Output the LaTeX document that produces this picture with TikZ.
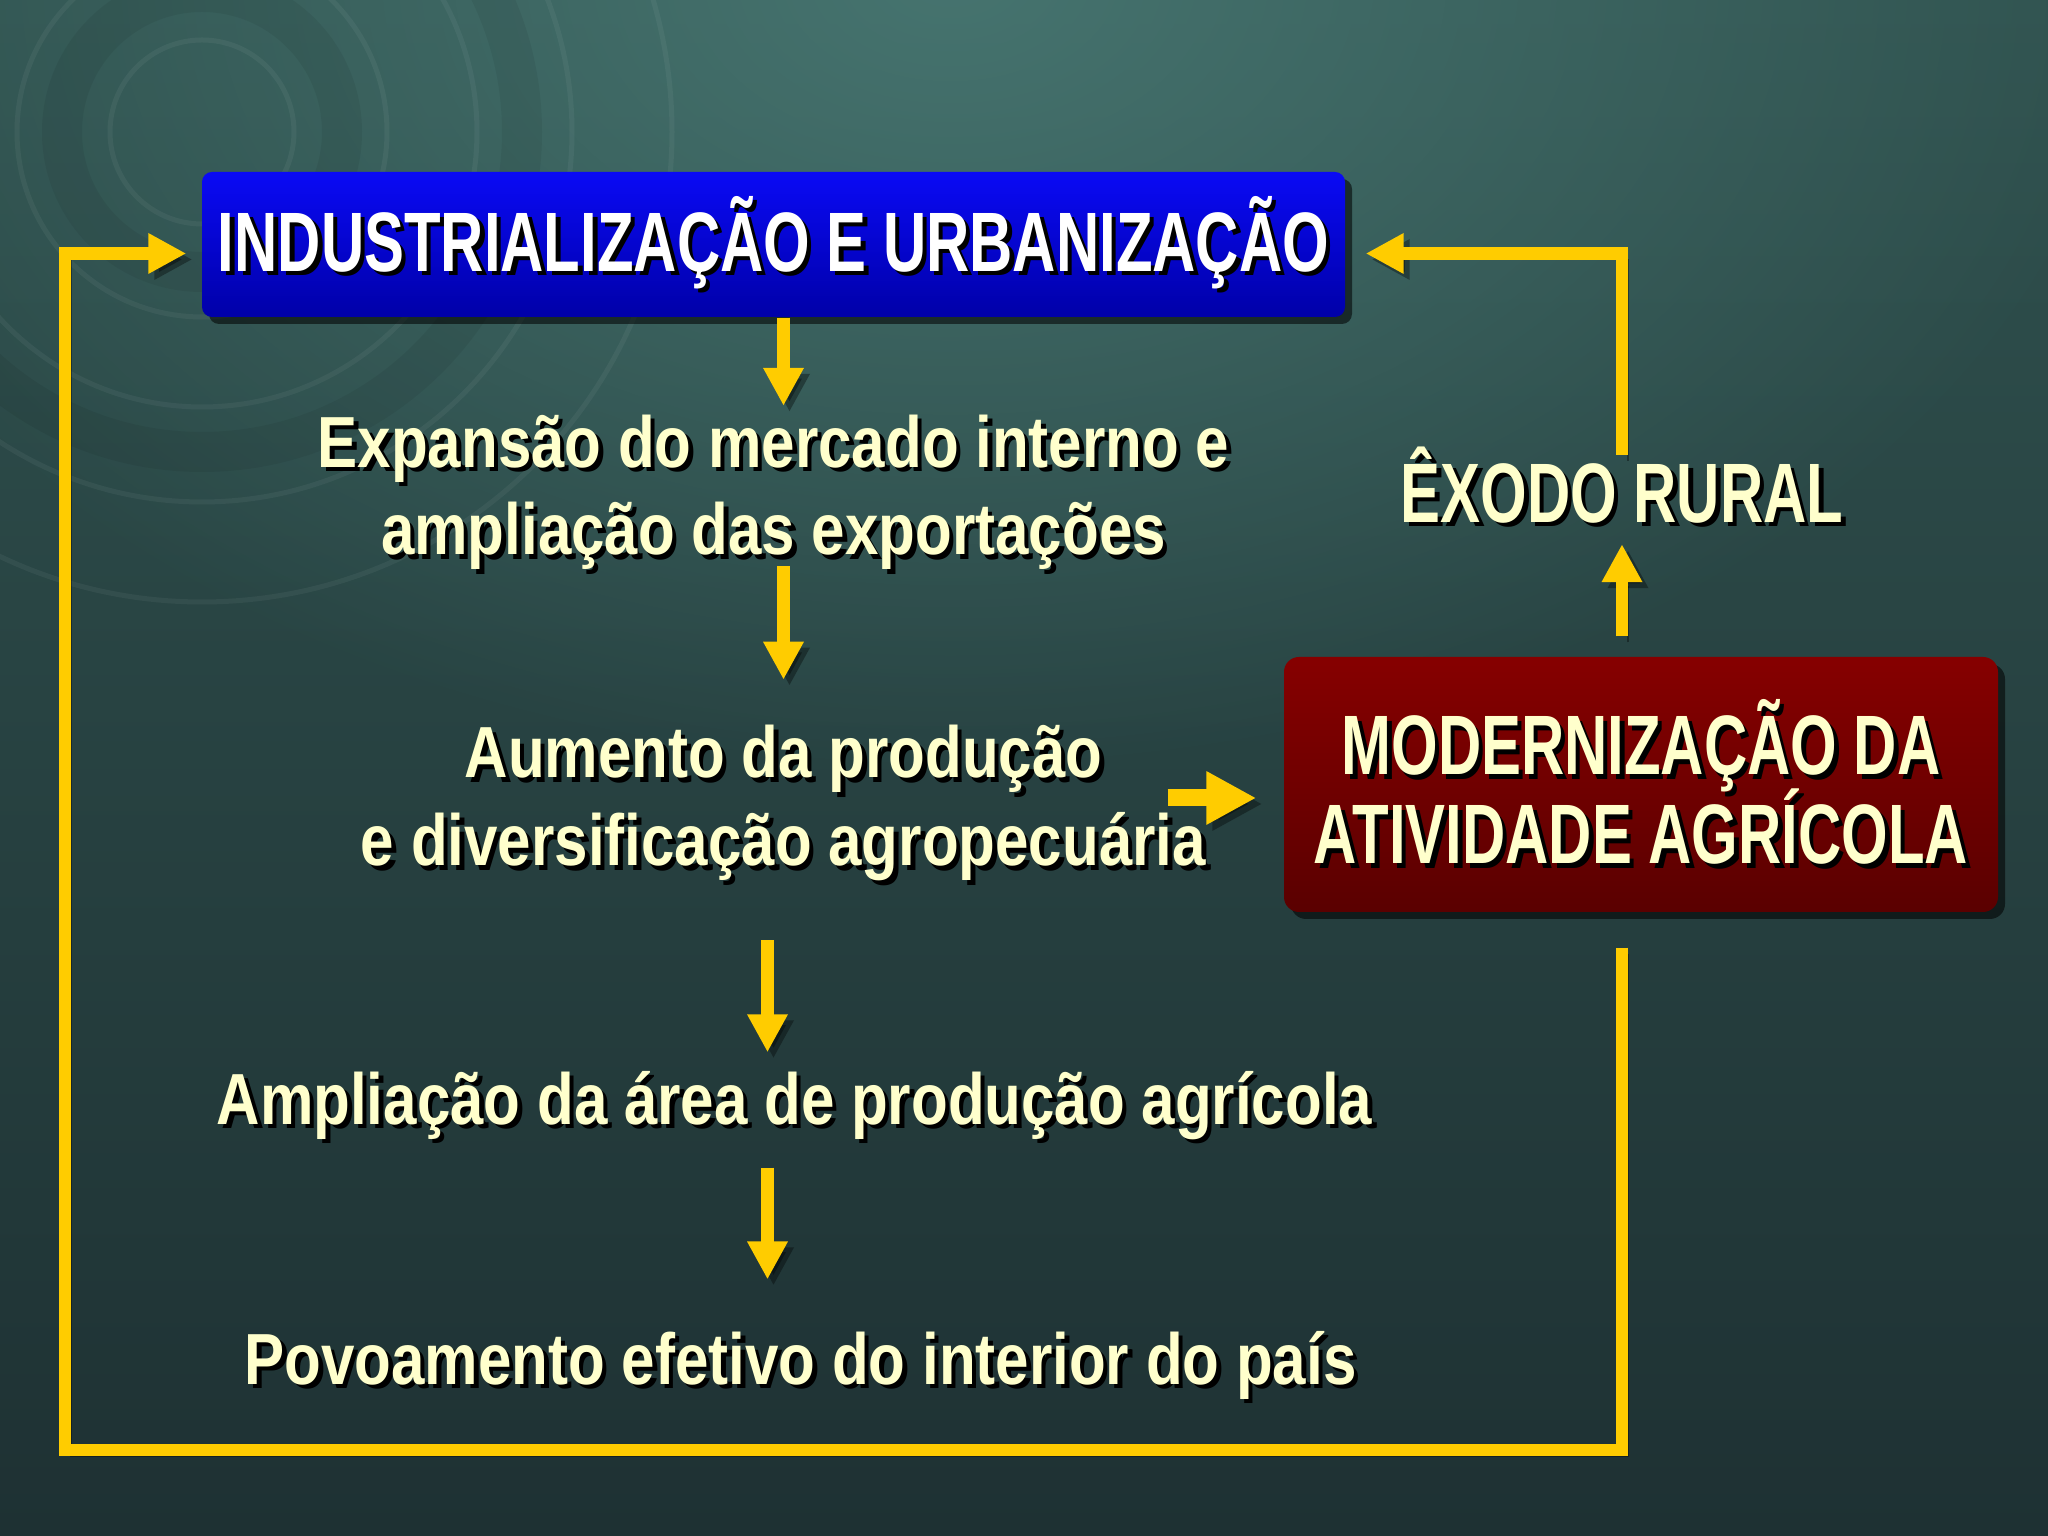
\documentclass[tikz,border=0pt]{standalone}
\usepackage{fontspec}
\setmainfont{Liberation Sans}[FakeStretch=0.83]
\newfontfamily\headfont{Liberation Sans}[FakeStretch=0.71]
\usetikzlibrary{arrows.meta,shadows,positioning,fadings}

\definecolor{bgtop}{HTML}{30524F}
\definecolor{bgbot}{HTML}{1E3133}
\definecolor{bgglow}{HTML}{4A7A75}
\definecolor{cream}{HTML}{FFFFCC}
\definecolor{gold}{HTML}{FFCC00}
\definecolor{bluetop}{HTML}{0A0AF5}
\definecolor{bluebot}{HTML}{0000A8}
\definecolor{redtop}{HTML}{860000}
\definecolor{redbot}{HTML}{5A0000}

\tikzfading[name=glow, inner color=transparent!15, outer color=transparent!100]

\newcommand\shd[1]{\leavevmode\rlap{\kern0.45mm\raisebox{-0.45mm}{\color{black}#1}}#1}

\begin{document}
\begin{tikzpicture}[
  etapa/.style = {text=cream, align=center, inner sep=0pt, font=\bfseries\fontsize{20.6}{25}\selectfont},
  titulo/.style = {text=cream, align=center, inner sep=0pt, font=\headfont\bfseries\fontsize{24}{25}\selectfont},
  bluebox/.style = {titulo, text=white, rounded corners=1mm, top color=bluetop, bottom color=bluebot, minimum width=11.43cm, minimum height=1.45cm, drop shadow={shadow xshift=0.7mm, shadow yshift=-0.7mm, fill=black, opacity=0.55}},
  redbox/.style = {titulo, rounded corners=1.5mm, top color=redtop, bottom color=redbot, minimum width=7.14cm, minimum height=2.55cm, drop shadow={shadow xshift=0.7mm, shadow yshift=-0.7mm, fill=black, opacity=0.55}},
  flow/.style = {draw=gold, line width=1.25mm, -{Triangle[length=3.8mm,width=3.8mm]}, preaction={draw=black, opacity=0.35, transform canvas={xshift=0.6mm,yshift=-0.6mm}}},
  bigflow/.style = {flow, line width=1.7mm, -{Triangle[length=5mm,width=5mm]}}
]
\useasboundingbox (0,0) rectangle (20.48,15.36);
\shade[top color=bgtop, bottom color=bgbot] (0,0) rectangle (20.48,15.36);
\fill[bgglow, path fading=glow] (9.5,15.6) ellipse (12cm and 8cm);
\begin{scope}
  \clip (0,0) rectangle (20.48,15.36);
  \foreach \r in {0.92,1.85,2.75,3.7,4.7}
    \draw[white, opacity=0.05, line width=0.5mm] (2.02,14.04) circle (\r);
  \foreach \r in {1.4,3.2}
    \draw[black, opacity=0.06, line width=4mm] (2.02,14.04) circle (\r);
\end{scope}

\node[bluebox] (indus) at (7.735,12.915) {\shd{INDUSTRIALIZAÇÃO E URBANIZAÇÃO}};
\node[etapa] (expan) [below of=indus, node distance=2.5cm] {\shd{Expansão do mercado interno e}\\\shd{ampliação das exportações}};
\node[etapa] (aumen) [below of=expan, node distance=3.11cm, xshift=1mm] {\shd{Aumento da produção}\\\shd{e diversificação agropecuária}};
\node[etapa] (ampli) [below of=aumen, node distance=3.02cm, xshift=1.1mm] {\shd{Ampliação da área de produção agrícola}};
\node[etapa] (povo) [below of=ampli, node distance=2.6cm, xshift=0.6mm] {\shd{Povoamento efetivo do interior do país}};
\node[redbox] (modern) at (16.41,7.515) {\shd{MODERNIZAÇÃO DA}\\[-3.2pt]\shd{ATIVIDADE AGRÍCOLA}};
\node[titulo] (exodo) [above of=modern, node distance=2.975cm, xshift=-1.9mm] {\shd{ÊXODO RURAL}};
\coordinate (corner) at (0.65,0.86);

\draw[flow, shorten >=0.8mm] (indus.south -| aumen) -- (expan.north -| aumen);
\draw[flow, shorten <=-0.9mm, shorten >=4.5mm] (expan.south -| aumen) -- (aumen.north);
\draw[flow, shorten <=5.4mm, shorten >=1.8mm] ([xshift=-1.6mm]aumen.south) -- ([xshift=-1.6mm]aumen.south |- ampli.north);
\draw[flow, shorten <=2.3mm, shorten >=5.1mm] ([xshift=-1.6mm]aumen.south |- ampli.south) -- ([xshift=-1.6mm]aumen.south |- povo.north);
\draw[bigflow, shorten >=2.7mm] ([xshift=-3.9mm,yshift=0.75mm]aumen.east) -- ([yshift=0.75mm]aumen.east -| modern.west);
\draw[flow, shorten <=2mm, shorten >=1.6mm] (modern.north -| exodo) -- (exodo.south);
\draw[flow, shorten <=-0.9mm, shorten >=2mm] (exodo.north) |- ([yshift=-0.9mm]indus.east);
\draw[flow, shorten >=1.5mm] ([yshift=-3.5mm]modern.south -| exodo) |- (corner) |- ([yshift=-0.9mm]indus.west);
\end{tikzpicture}
\end{document}
